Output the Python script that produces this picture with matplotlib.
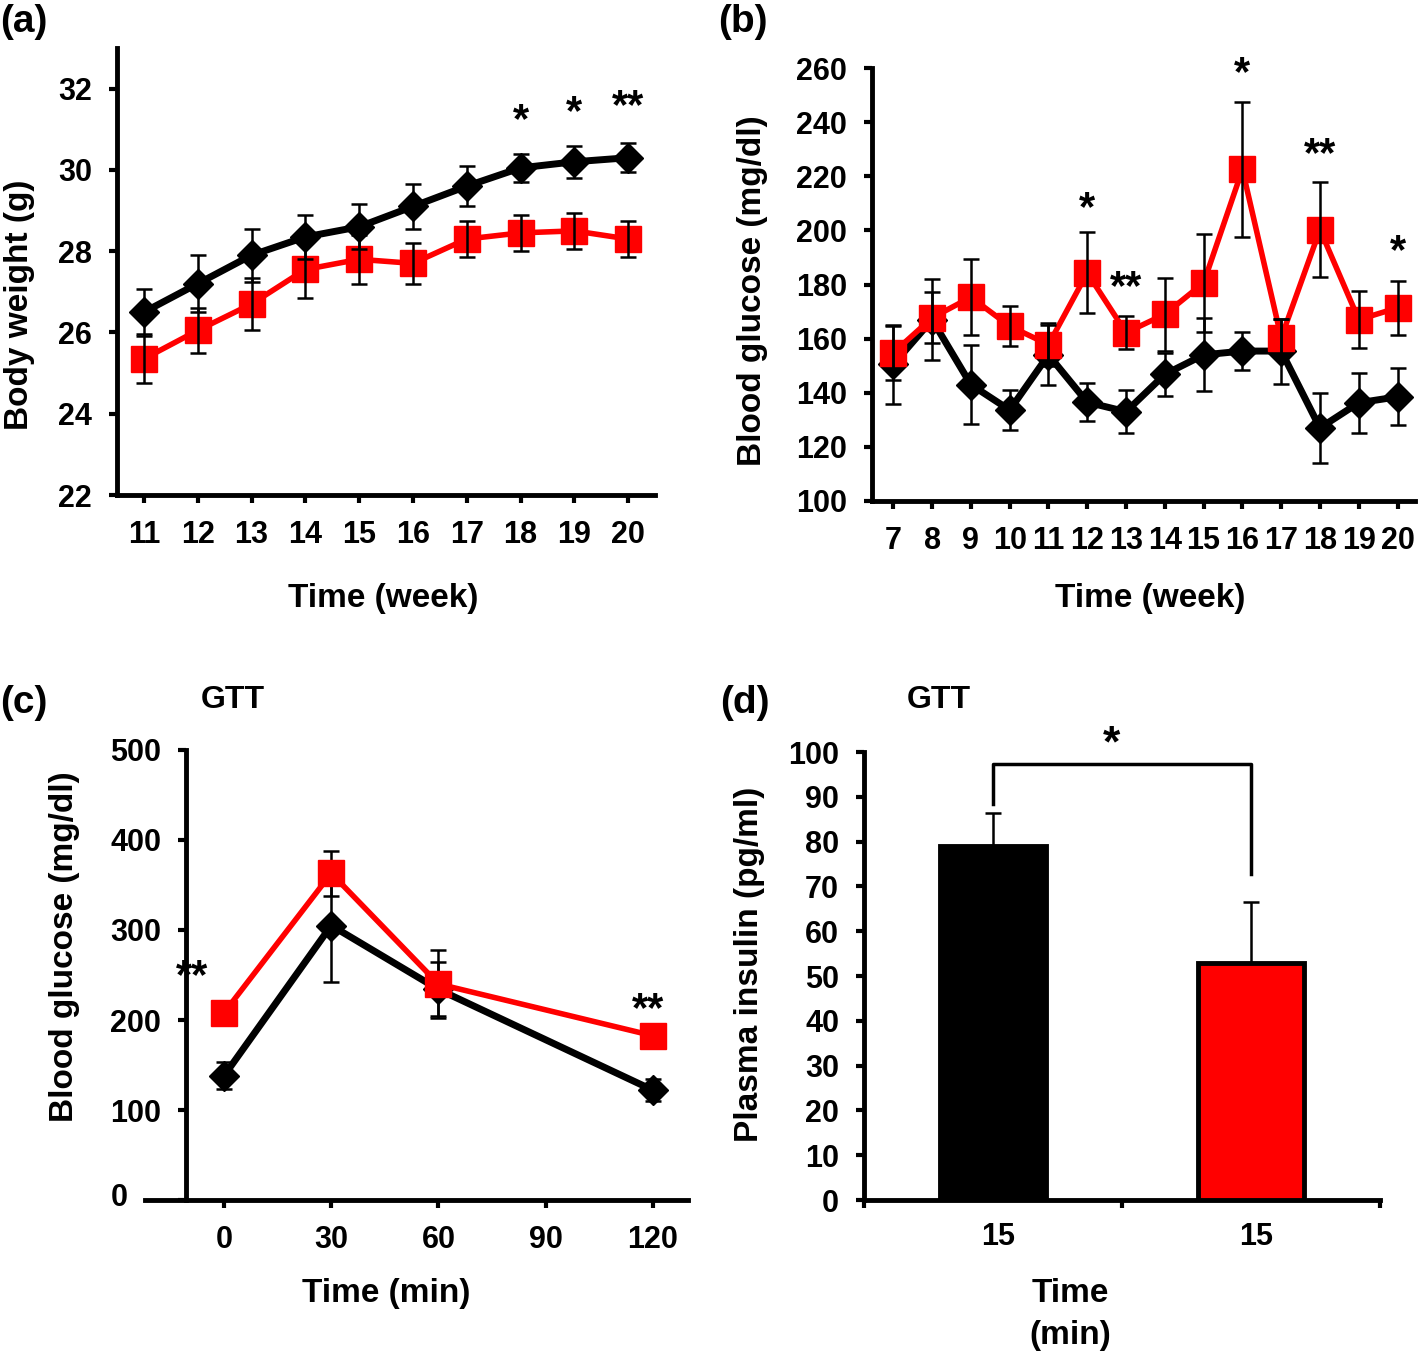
import matplotlib
matplotlib.use("Agg")
import matplotlib.pyplot as plt
from matplotlib.transforms import ScaledTranslation

plt.rcParams['font.family'] = ['Liberation Sans', 'DejaVu Sans']
plt.rcParams['font.weight'] = 'bold'
plt.rcParams['axes.labelweight'] = 'bold'

# (a) body weight
weeks_a = [11, 12, 13, 14, 15, 16, 17, 18, 19, 20]
bw_black = [26.5, 27.2, 27.9, 28.35, 28.6, 29.1, 29.6, 30.05, 30.2, 30.3]
bw_black_err = [0.58, 0.7, 0.65, 0.55, 0.55, 0.55, 0.5, 0.35, 0.4, 0.35]
bw_red = [25.35, 26.05, 26.7, 27.55, 27.8, 27.7, 28.3, 28.45, 28.5, 28.3]
bw_red_err = [0.6, 0.55, 0.65, 0.7, 0.6, 0.5, 0.45, 0.45, 0.45, 0.45]
bw_stars = [(18, 31.2, '*'), (19, 31.4, '*'), (20, 31.55, '**')]

# (b) blood glucose by week
weeks_b = [7, 8, 9, 10, 11, 12, 13, 14, 15, 16, 17, 18, 19, 20]
bg_black = [150.5, 167, 143, 133.6, 154, 136.5, 133, 146.8, 154, 155.4, 155.4, 127, 136.3, 138.5]
bg_black_err = [14.5, 15, 14.5, 7.5, 11, 7, 8, 8, 13.5, 7, 12, 13, 11, 10.5]
bg_red = [154.8, 167.7, 175.3, 164.6, 157.8, 184.3, 162.2, 169, 180.6, 222.5, 160.3, 200.3, 167, 171.4]
bg_red_err = [10, 9.5, 14, 7.5, 8, 15, 6, 13.5, 18, 25, 7, 17.5, 10.5, 10]
bg_stars = [(12, 208, '*'), (13, 178.6, '**'), (16, 257.6, '*'), (18, 227.7, '**'), (20, 192, '*')]

# (c) GTT
gtt_time = [0, 30, 60, 120]
gtt_black = [138, 305, 234, 122]
gtt_black_err = [15, 63, 30, 12]
gtt_red = [208, 363, 240, 182.5]
gtt_red_err = [4, 25, 38, 4]
gtt_stars = [(-9, 248, '**'), (118.5, 211, '**')]

# (d) plasma insulin
ins_labels = ['15', '15']
ins_values = [79, 53]
ins_err = [7.3, 13.5]
ins_colors = ['black', 'red']

fig = plt.figure(figsize=(14.19, 13.62), dpi=100)
W, H = 1419, 1362


def add_ax(left, right, top, bottom):
    return fig.add_axes([left / W, 1 - bottom / H, (right - left) / W, (bottom - top) / H])


def style(ax):
    for s in ['top', 'right']:
        ax.spines[s].set_visible(False)
    for s in ['left', 'bottom']:
        ax.spines[s].set_linewidth(3.5)
    ax.tick_params(width=3, length=6, labelsize=22, pad=12, direction='out')


def lines(ax, x, yb, eb, yr, er, ez=5):
    ax.plot(x, yb, color='black', lw=5, marker='D', ms=15, zorder=3, clip_on=False)
    ax.plot(x, yr, color='red', lw=4, marker='s', ms=19, zorder=4, clip_on=False)
    ax.errorbar(x, yb, yerr=eb, fmt='none', ecolor='black', elinewidth=1.8, capsize=6, capthick=1.8, zorder=ez)
    ax.errorbar(x, yr, yerr=er, fmt='none', ecolor='black', elinewidth=1.8, capsize=6, capthick=1.8, zorder=ez)


def stars(ax, items, size=30):
    for x, y, s in items:
        ax.text(x, y, s, ha='center', va='center', fontsize=size)


# panel a
ax = add_ax(117, 655, 48, 495)
style(ax)
lines(ax, weeks_a, bw_black, bw_black_err, bw_red, bw_red_err)
ax.set_xlim(10.5, 20.5)
ax.set_ylim(22, 33)
ax.set_xticks(weeks_a)
ax.set_yticks([22, 24, 26, 28, 30, 32])
stars(ax, bw_stars)
ax.set_ylabel('Body weight (g)', fontsize=24)
ax.set_xlabel('Time (week)', fontsize=24)
ax.yaxis.set_label_coords(-0.152, 0.425)
ax.xaxis.set_label_coords(0.494, -0.197)

# panel b
ax = add_ax(872, 1415, 68, 501)
style(ax)
lines(ax, weeks_b, bg_black, bg_black_err, bg_red, bg_red_err)
ax.set_xlim(6.45, 20.45)
ax.set_ylim(100, 260)
ax.set_xticks(weeks_b)
ax.set_yticks(range(100, 261, 20))
stars(ax, bg_stars)
ax.set_ylabel('Blood glucose (mg/dl)', fontsize=24)
ax.set_xlabel('Time (week)', fontsize=24)
ax.yaxis.set_label_coords(-0.1915, 0.485)
ax.xaxis.set_label_coords(0.512, -0.189)

# panel c
ax = add_ax(145, 688, 750, 1200)
style(ax)
ax.spines['left'].set_position(('data', -10.6))
lines(ax, gtt_time, gtt_black, gtt_black_err, gtt_red, gtt_red_err, ez=2)
ax.set_xlim(-22.1, 129.8)
ax.set_ylim(0, 500)
ax.set_xticks([0, 30, 60, 90, 120])
ax.set_yticks(range(0, 501, 100))
# the zero label sits further left, past the end of the x axis
zero = ax.get_yticklabels()[0]
zero.set_transform(zero.get_transform() + ScaledTranslation(-0.33, 0.05, fig.dpi_scale_trans))
stars(ax, gtt_stars)
ax.set_ylabel('Blood glucose (mg/dl)', fontsize=24)
ax.set_xlabel('Time (min)', fontsize=24)
ax.yaxis.set_label_coords(-0.12, 0.562)
ax.xaxis.set_label_coords(0.444, -0.173)

# panel d
ax = add_ax(864, 1380, 752, 1200)
style(ax)
pos = [0.5, 1.5]
ax.bar(pos, ins_values, width=0.41, color=ins_colors, edgecolor='black', linewidth=3.5, zorder=3)
ax.errorbar(pos, ins_values, yerr=[[0, 0], ins_err], fmt='none', ecolor='black',
            elinewidth=1.8, capsize=6, capthick=1.8, zorder=2)
ax.plot([0.5, 0.5, 1.5, 1.5], [88.5, 97.3, 97.3, 72.8], color='black', lw=2.5)
ax.text(0.96, 101.6, '*', ha='center', va='center', fontsize=32)
ax.set_xlim(0, 2)
ax.set_ylim(0, 100)
ax.set_xticks([0, 1, 2])
ax.set_xticklabels(['', '', ''])
ax.set_xticks([0.52, 1.52], minor=True)
ax.set_xticklabels(ins_labels, minor=True)
ax.tick_params(axis='x', which='minor', length=0, labelsize=22, pad=16)
ax.set_yticks(range(0, 101, 10))
ax.set_ylabel('Plasma insulin (pg/ml)', fontsize=24)
ax.set_xlabel('Time\n(min)', fontsize=24, linespacing=1.45)
ax.yaxis.set_label_coords(-0.192, 0.525)
ax.xaxis.set_label_coords(0.399, -0.174)

# panel letters and titles
for x, y, s in [(0, 22, '(a)'), (718, 22, '(b)'), (0, 703, '(c)'), (720, 703, '(d)')]:
    fig.text(x / W, 1 - y / H, s, fontsize=28, ha='left', va='center')
for x, y in [(233, 700), (939, 700)]:
    fig.text(x / W, 1 - y / H, 'GTT', fontsize=23, ha='center', va='center')

fig.savefig('out.png', dpi=100)
